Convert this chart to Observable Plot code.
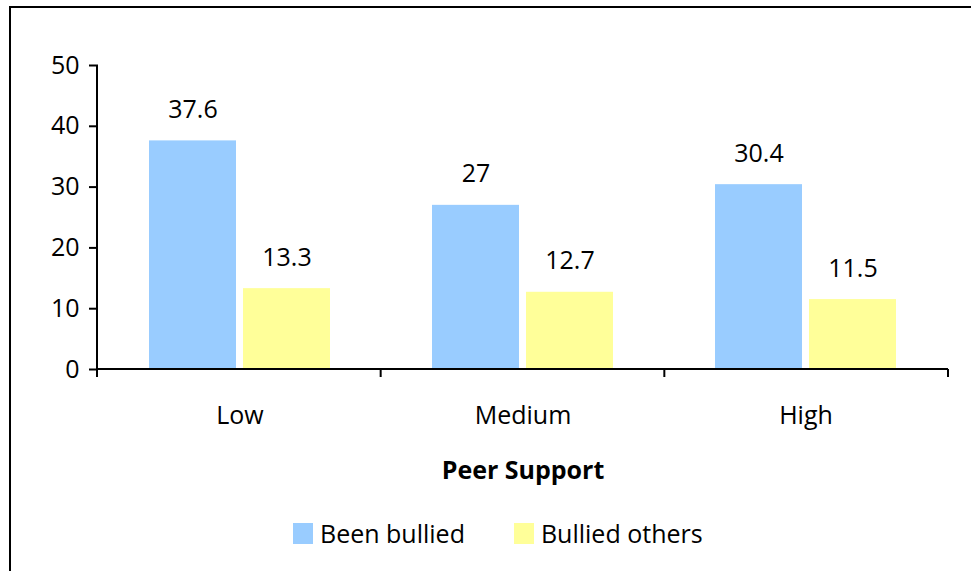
<!DOCTYPE html>
<html><head><meta charset="utf-8">
<script src="https://cdn.jsdelivr.net/npm/d3@7"></script>
<script src="https://cdn.jsdelivr.net/npm/@observablehq/plot@0.6"></script>
<style>
body{margin:0;background:#fff;}
#wrap{position:relative;width:971px;height:571px;overflow:hidden;background:#fff;font-family:"Open Sans",sans-serif;}
#frame{position:absolute;left:9px;top:6px;width:1000px;height:600px;border-top:2px solid #000;border-left:2px solid #000;}
#chart{position:absolute;left:0;top:0;}
#legend{position:absolute;left:293px;top:521px;display:flex;align-items:center;font-size:25px;line-height:24px;color:#000;}
.item{display:flex;align-items:center;margin-right:49px;}
.sw{width:20px;height:21px;margin-right:7px;}
</style></head>
<body><div id="wrap"><div id="frame"></div><div id="chart"></div><div id="legend"></div></div>
<script>
const categories = ["Low", "Medium", "High"];
const series = ["Been bullied", "Bullied others"];
const beenBullied = [37.6, 27, 30.4];
const bulliedOthers = [13.3, 12.7, 11.5];
const yTicks = [0, 10, 20, 30, 40, 50];
const colors = ["#99CCFF", "#FFFF99"];
const xLabel = "Peer Support";

const data = categories.flatMap((c, i) => [
  {cat: c, series: series[0], value: beenBullied[i]},
  {cat: c, series: series[1], value: bulliedOthers[i]}
]);

const plot = Plot.plot({
  width: 971, height: 500,
  marginLeft: 97, marginRight: 23, marginTop: 65, marginBottom: 131,
  style: {fontFamily: '"Open Sans", sans-serif', fontSize: "25px", color: "#000", background: "transparent", overflow: "visible"},
  fx: {domain: categories, padding: 0, label: xLabel, labelAnchor: "center", tickSize: 0, tickPadding: 37, labelOffset: 109},
  x: {domain: series, paddingInner: 0.074, paddingOuter: 0.53, axis: null},
  y: {domain: [0, 50], ticks: yTicks, tickSize: 9, tickPadding: 10, label: null},
  color: {domain: series, range: colors},
  marks: [
    Plot.barY(data, {fx: "cat", x: "series", y: "value", fill: "series"}),
    Plot.text(data, {fx: "cat", x: "series", y: "value", text: d => String(d.value), dy: -23, lineAnchor: "bottom", fontSize: 25, fill: "#000"})
  ]
});
document.getElementById("chart").appendChild(plot);

// axis lines and boundary ticks drawn from Plot's own scales
const svg = d3.select(plot);
const fxS = plot.scale("fx"), yS = plot.scale("y");
const yf = yS.apply ? yS.apply : d3.scaleLinear(yS.domain, yS.range);
const [rx0, rx1] = fxS.range;
const n = fxS.domain.length, step = (rx1 - rx0) / n;
const y0 = yf(0), yTop = yf(d3.max(yTicks));
const g = svg.append("g").attr("stroke", "#000").attr("stroke-width", 2);
g.append("line").attr("x1", rx0).attr("x2", rx1).attr("y1", y0).attr("y2", y0);
g.append("line").attr("x1", rx0).attr("x2", rx0).attr("y1", yTop).attr("y2", y0 + 8);
for (let i = 0; i <= n; i++) {
  const x = rx0 + i * step;
  g.append("line").attr("x1", x).attr("x2", x).attr("y1", y0).attr("y2", y0 + 8);
}
svg.selectAll('[aria-label="y-axis tick"]').attr("stroke-width", 2);
svg.selectAll('[aria-label="fx-axis label"]').attr("font-weight", "bold");

// legend
const lg = d3.select("#legend");
series.forEach((s, i) => {
  const it = lg.append("div").attr("class", "item");
  it.append("div").attr("class", "sw").style("background", colors[i]);
  it.append("span").text(s);
});
</script>
</body></html>
